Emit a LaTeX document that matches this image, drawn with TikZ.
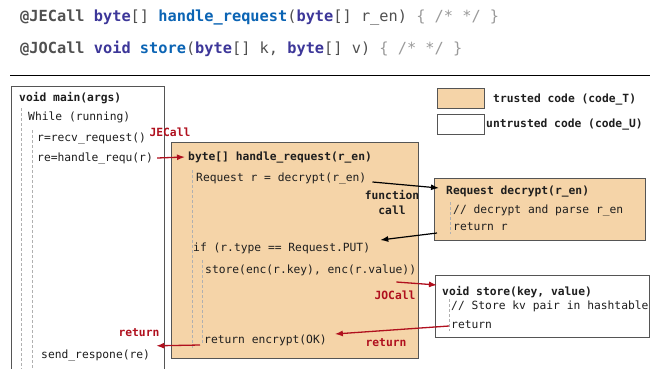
\documentclass[tikz,border=0pt]{standalone}
\usepackage{fontspec}
\setmonofont{DejaVu Sans Mono}
\usetikzlibrary{calc,arrows.meta}

\definecolor{trustfill}{HTML}{F5D4A8}
\definecolor{framegray}{HTML}{555555}
\definecolor{guide}{HTML}{B0B0B0}
\definecolor{callred}{HTML}{B0101E}
\definecolor{kwpurple}{HTML}{3D3799}
\definecolor{fnblue}{HTML}{0B64B4}
\definecolor{annotgray}{HTML}{505050}
\definecolor{cmtgray}{HTML}{9A9A9A}
\definecolor{codeink}{HTML}{1E1E1E}

\newcommand\codekw[1]{{\bfseries\color{kwpurple}#1}}
\newcommand\codefn[1]{{\bfseries\color{fnblue}#1}}
\newcommand\codean[1]{{\bfseries\color{annotgray}#1}}
\newcommand\codecm[1]{{\color{cmtgray}#1}}

\tikzset{
  code/.style={font=\ttfamily\fontsize{11.3}{13}\selectfont, text=codeink,
    inner sep=0pt, anchor=west, text height=8pt, text depth=2pt},
  codeb/.style={code, font=\ttfamily\bfseries\fontsize{11.3}{13}\selectfont},
  sig/.style={font=\ttfamily\fontsize{15.3}{18}\selectfont, text=annotgray,
    inner sep=0pt, anchor=west, text height=11pt, text depth=3pt},
  redlabel/.style={codeb, text=callred, anchor=center},
  blacklabel/.style={codeb, anchor=center},
  ubox/.style={draw=framegray, line width=1.1pt, fill=white, inner sep=0pt, anchor=north west},
  tbox/.style={ubox, fill=trustfill},
  guideline/.style={draw=guide, line width=0.8pt, dash pattern=on 3pt off 2pt},
  redarrow/.style={draw=callred, line width=1.3pt, -{Latex[length=8pt,width=6pt]}},
  blackarrow/.style={draw=black, line width=1.2pt, -{Latex[length=8pt,width=6pt]}},
}

\begin{document}
\begin{tikzpicture}[x=1pt, y=-1pt]
  \useasboundingbox (0,0) rectangle (662,368);
  \clip (0,0) rectangle (662,368);

  % annotated signatures
  \node[sig] (sig1) at (20,17) {\codean{@JECall} \codekw{byte}[] \codefn{handle\_request}(\codekw{byte}[] r\_en) \codecm{\{ /* */ \}}};
  \node[sig] (sig2) at (20,49) {\codean{@JOCall} \codekw{void} \codefn{store}(\codekw{byte}[] k, \codekw{byte}[] v) \codecm{\{ /* */ \}}};
  \coordinate (ruleL) at (10,75);
  \coordinate (ruleR) at (650,75);
  \draw[line width=1pt] (ruleL) -- (ruleR);

  % legend
  \node[tbox, minimum width=47pt, minimum height=20pt] (legT) at (437,88) {};
  \node[codeb] (legTtxt) at (493,99) {trusted code (code\_T)};
  \node[ubox, minimum width=47pt, minimum height=20pt] (legU) at (437,114) {};
  \node[codeb] (legUtxt) at (486,124) {untrusted code (code\_U)};

  % main loop (untrusted)
  \node[ubox, minimum width=153pt, minimum height=300pt] (mainbox) at (11,86) {};
  \node[codeb] (mainsig) at (19,98) {void main(args)};
  \node[code] (loop) at (28,117) {While (running)};
  \node[code] (recv) at (37,138) {r=recv\_request()};
  \node[code] (recall) at (37,158) {re=handle\_requ(r)};
  \node[code] (send) at (41,355) {send\_respone(re)};
  \coordinate (g1a) at (21,108);  \coordinate (g1b) at (21,372);
  \coordinate (g2a) at (32,130);  \coordinate (g2b) at (32,372);
  \draw[guideline] (g1a) -- (g1b);
  \draw[guideline] (g2a) -- (g2b);

  % handle_request (trusted)
  \node[tbox, minimum width=247pt, minimum height=216pt] (hbox) at (171,142) {};
  \node[codeb] (htitle) at (188,157) {byte[] handle\_request(r\_en)};
  \node[code] (decline) at (196,178) {Request r = decrypt(r\_en)};
  \node[code] (ifline) at (193,248) {if (r.type == Request.PUT)};
  \node[code] (storeline) at (205,270) {store(enc(r.key), enc(r.value))};
  \node[code] (retenc) at (204,340) {return encrypt(OK)};
  \coordinate (g3a) at (192,170); \coordinate (g3b) at (192,348);
  \coordinate (g4a) at (202,260); \coordinate (g4b) at (202,343);
  \draw[guideline] (g3a) -- (g3b);
  \draw[guideline] (g4a) -- (g4b);

  % decrypt (trusted)
  \node[tbox, minimum width=211pt, minimum height=62pt] (decbox) at (434,178) {};
  \node[codeb] (dectitle) at (446,191) {Request decrypt(r\_en)};
  \node[code] (deccmt) at (453,210) {// decrypt and parse r\_en};
  \node[code] (decret) at (453,227) {return r};
  \coordinate (g5a) at (450,202); \coordinate (g5b) at (450,234);
  \draw[guideline] (g5a) -- (g5b);

  % store (untrusted)
  \node[ubox, minimum width=214pt, minimum height=62pt] (stbox) at (435,275) {};
  \node[codeb] (sttitle) at (442,292) {void store(key, value)};
  \node[code] (stcmt) at (451,306) {// Store kv pair in hashtable};
  \node[code] (stret) at (451,325) {return};
  \coordinate (g6a) at (449,299); \coordinate (g6b) at (449,331);
  \draw[guideline] (g6a) -- (g6b);

  % labels
  \node[redlabel] (jecall) at (170,133) {JECall};
  \node[redlabel] (jocall) at (395,296) {JOCall};
  \node[redlabel] (ret1) at (386,343) {return};
  \node[redlabel] (ret2) at (139,333) {return};
  \node[blacklabel] (fcall1) at (392,196) {function};
  \node[blacklabel] (fcall2) at (392,211) {call};

  % calls and returns
  \draw[redarrow] ($(recall.east)+(4,0)$) -- ($(htitle.west)+(-3,0)$);
  \draw[blackarrow] ($(decline.east)+(6,4)$) -- ($(decbox.north west)+(5,10)$);
  \draw[blackarrow] ($(decbox.north west)+(3,55)$) -- ($(ifline.east)+(10,-8)$);
  \draw[redarrow] ($(storeline.east)+(-20,12)$) -- ($(stbox.north west)+(2,10)$);
  \draw[redarrow] ($(stret.west)+(-2,1)$) -- ($(retenc.east)+(8,-6)$);
  \draw[redarrow] ($(retenc.west)+(-4,5)$) -- ($(send.north east)+(6,-4)$);
\end{tikzpicture}
\end{document}
